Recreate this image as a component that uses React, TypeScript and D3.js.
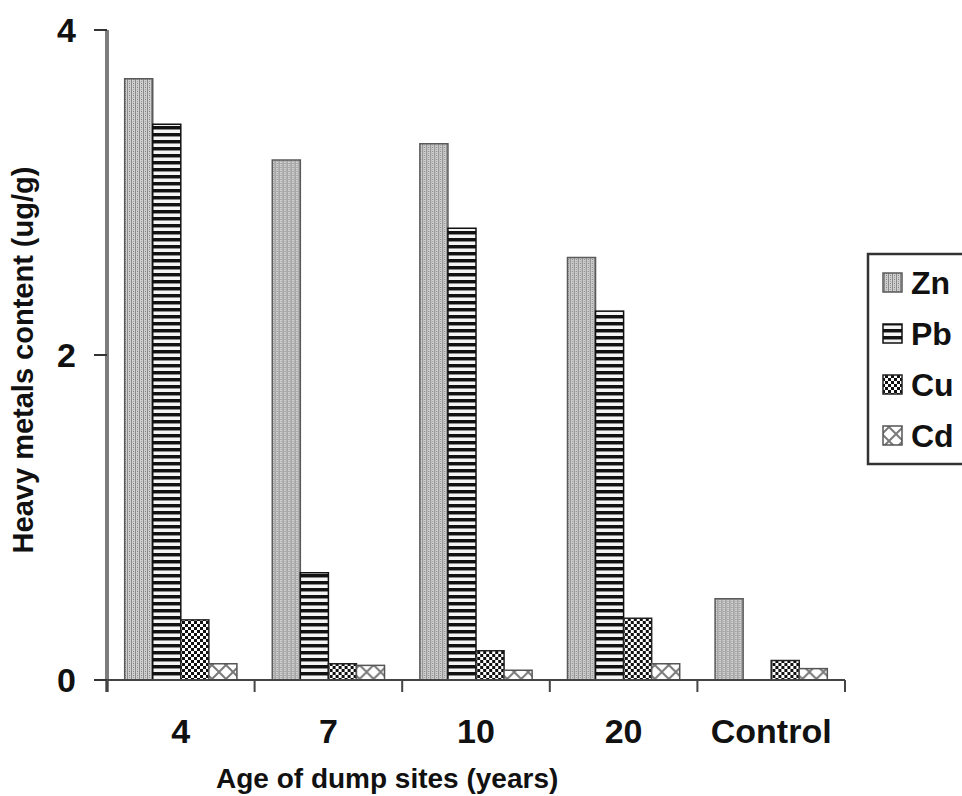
import React from "react";
import * as d3 from "d3";

const categories = ["4", "7", "10", "20", "Control"];
const series = ["Zn", "Pb", "Cu", "Cd"];
const zn = [3.70, 3.20, 3.30, 2.60, 0.50];
const pb = [3.42, 0.66, 2.78, 2.27, 0];
const cu = [0.37, 0.10, 0.18, 0.38, 0.12];
const cd = [0.10, 0.09, 0.06, 0.10, 0.07];
const yTicks = [0, 2, 4];
const yTitle = "Heavy metals content (ug/g)";
const xTitle = "Age of dump sites (years)";

const values: Record<string, number[]> = { Zn: zn, Pb: pb, Cu: cu, Cd: cd };
const strokes: Record<string, string> = { Zn: "#5a5a5a", Pb: "#111", Cu: "#222", Cd: "#555" };

const W = 962, H = 796;
const left = 107, right = 845, top = 30, bottom = 680;
const FONT = "'Liberation Sans', Arial, sans-serif";

export default function App() {
  const x0 = d3.scaleBand<string>().domain(categories).range([left, right]).padding(0);
  const x1 = d3.scaleBand<string>().domain(series).range([0, x0.bandwidth()]).paddingInner(0).paddingOuter(0.63);
  const y = d3.scaleLinear().domain([0, 4]).range([bottom, top]);
  const tickXs = [...categories.map((c) => x0(c) as number), right];

  return (
    <svg width={W} height={H} style={{ position: "absolute", left: 0, top: 0, background: "#fff" }} fontFamily={FONT}>
      <defs>
        <pattern id="p-Zn" width="4" height="4" patternUnits="userSpaceOnUse">
          <rect width="4" height="4" fill="#cfcfcf" />
          <rect x="0" width="1" height="4" fill="#8a8a8a" />
          <rect x="2" y="1" width="1" height="1" fill="#9c9c9c" />
          <rect x="2" y="3" width="1" height="1" fill="#808080" />
        </pattern>
        <pattern id="p-Pb" width="8" height="7" patternUnits="userSpaceOnUse">
          <rect width="8" height="7" fill="#f4f4f4" />
          <rect y="0" width="8" height="3" fill="#111" />
          <rect y="3" width="8" height="1" fill="#8a8a8a" />
        </pattern>
        <pattern id="p-Cu" width="6" height="6" patternUnits="userSpaceOnUse">
          <rect width="6" height="6" fill="#fff" />
          <rect x="0" y="0" width="3" height="3" fill="#111" />
          <rect x="3" y="3" width="3" height="3" fill="#111" />
        </pattern>
        <pattern id="p-Cd" width="14" height="14" patternUnits="userSpaceOnUse">
          <rect width="14" height="14" fill="#fff" />
          <path d="M0,0 L14,14 M14,0 L0,14" stroke="#7a7a7a" strokeWidth="2" />
        </pattern>
      </defs>

      {/* bars */}
      {categories.map((c, i) => (
        <g key={c} transform={`translate(${x0(c)},0)`}>
          {series.map((s) => {
            const v = values[s][i];
            if (!v) return null;
            return (
              <rect
                key={s}
                x={x1(s)}
                y={y(v)}
                width={x1.bandwidth()}
                height={y(0) - y(v)}
                fill={`url(#p-${s})`}
                stroke={strokes[s]}
                strokeWidth={1.5}
              />
            );
          })}
        </g>
      ))}

      {/* y axis */}
      <line x1={left} x2={left} y1={top} y2={bottom + 12} stroke="#7d7d7d" strokeWidth={4} />
      {yTicks.map((t) => (
        <g key={t}>
          <line x1={left - 13} x2={left} y1={y(t)} y2={y(t)} stroke="#333" strokeWidth={2} />
          <text x={76} y={y(t) + 12} textAnchor="end" fontSize={34} fontWeight="bold" fill="#111">
            {t}
          </text>
        </g>
      ))}

      {/* x axis */}
      <line x1={left} x2={right} y1={bottom} y2={bottom} stroke="#444" strokeWidth={2} />
      {tickXs.map((tx, i) => (
        <line key={i} x1={tx} x2={tx} y1={bottom} y2={bottom + 12} stroke="#444" strokeWidth={2} />
      ))}
      {categories.map((c) => (
        <text
          key={c}
          x={(x0(c) as number) + x0.bandwidth() / 2}
          y={743}
          textAnchor="middle"
          fontSize={34}
          fontWeight="bold"
          fill="#111"
        >
          {c}
        </text>
      ))}

      {/* axis titles */}
      <text x={216} y={788} fontSize={28} fontWeight="bold" fill="#111">
        {xTitle}
      </text>
      <text
        transform={`translate(33,${360}) rotate(-90)`}
        textAnchor="middle"
        fontSize={29}
        fontWeight="bold"
        fill="#111"
      >
        {yTitle}
      </text>

      {/* legend */}
      <rect x={868} y={254} width={130} height={210} fill="#fff" stroke="#333" strokeWidth={2.5} />
      {series.map((s, i) => {
        const cy = 283 + i * 51;
        return (
          <g key={s}>
            <rect x={883} y={cy - 10} width={19} height={19} fill={`url(#p-${s})`} stroke={strokes[s]} strokeWidth={1.5} />
            <text x={911} y={cy + 11} fontSize={32} fontWeight="bold" fill="#111">
              {s}
            </text>
          </g>
        );
      })}
    </svg>
  );
}
